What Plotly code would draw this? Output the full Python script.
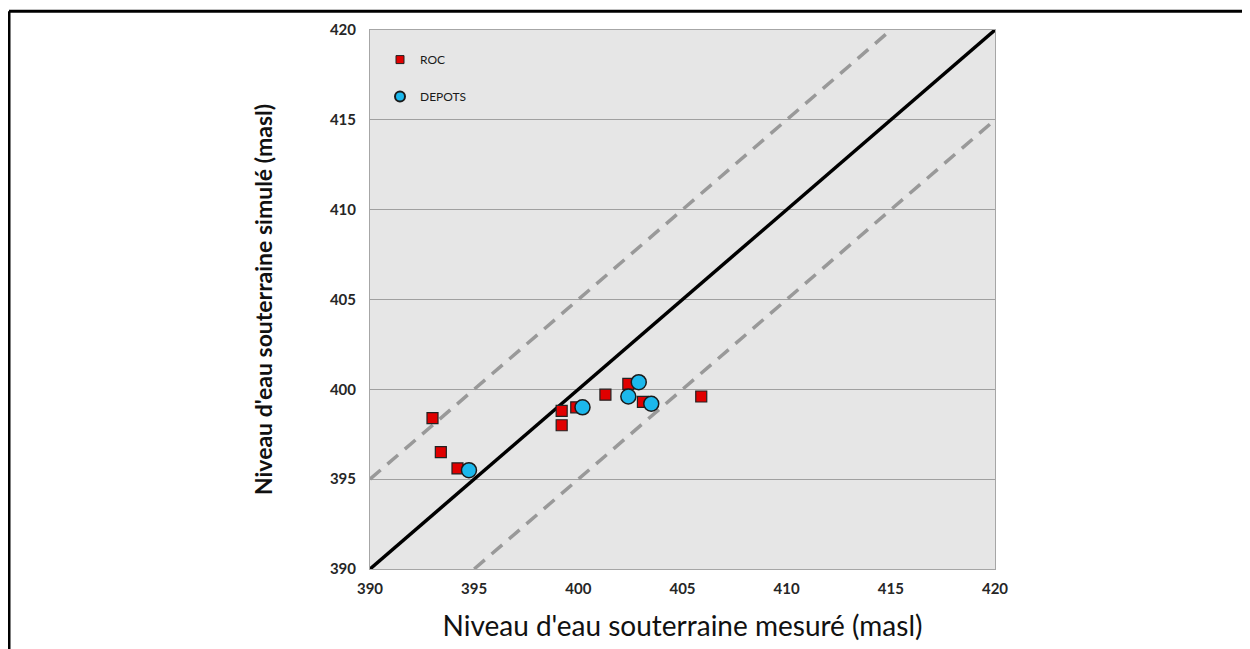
import plotly.graph_objects as go

# measured vs simulated groundwater levels (masl)
roc_mesure = [393.0, 393.4, 394.2, 399.2, 399.2, 399.9, 401.3, 402.4, 403.1, 405.9]
roc_simule = [398.4, 396.5, 395.6, 398.8, 398.0, 399.0, 399.7, 400.3, 399.3, 399.6]

depots_mesure = [394.75, 400.2, 402.9, 402.4, 403.5]
depots_simule = [395.5, 399.0, 400.4, 399.6, 399.2]

# reference lines: 1:1 and +/- 5 m
ligne_x = [390, 420]
ligne_y = [390, 420]
haut_x = [390, 415]
haut_y = [395, 420]
bas_x = [395, 420]
bas_y = [390, 415]

font = "Lato, 'Liberation Sans', sans-serif"

fig = go.Figure()

fig.add_trace(go.Scatter(x=haut_x, y=haut_y, mode="lines", showlegend=False,
                         line=dict(color="#999999", width=3.5, dash="14px,9px"), hoverinfo="skip"))
fig.add_trace(go.Scatter(x=bas_x, y=bas_y, mode="lines", showlegend=False,
                         line=dict(color="#999999", width=3.5, dash="14px,9px"), hoverinfo="skip"))
fig.add_trace(go.Scatter(x=ligne_x, y=ligne_y, mode="lines", showlegend=False,
                         line=dict(color="black", width=3.5), hoverinfo="skip"))

fig.add_trace(go.Scatter(x=roc_mesure, y=roc_simule, mode="markers", name="ROC", showlegend=False,
                         marker=dict(symbol="square", size=11, color="#e00000",
                                     line=dict(color="#222222", width=1.2))))
fig.add_trace(go.Scatter(x=depots_mesure, y=depots_simule, mode="markers", name="DEPOTS", showlegend=False,
                         marker=dict(symbol="circle", size=15, color="#1cb8ec",
                                     line=dict(color="#1a1a1a", width=1.5))))

# legend-only entries with smaller markers
fig.add_trace(go.Scatter(x=[None], y=[None], mode="markers", name="ROC", legendgroup="roc",
                         marker=dict(symbol="square", size=8, color="#e00000",
                                     line=dict(color="#222222", width=1))))
fig.add_trace(go.Scatter(x=[None], y=[None], mode="markers", name="DEPOTS", legendgroup="dep",
                         marker=dict(symbol="circle", size=10, color="#1cb8ec",
                                     line=dict(color="#1a1a1a", width=2))))

fig.update_xaxes(range=[390, 420], dtick=5, showgrid=False, zeroline=False,
                 showline=True, linecolor="#a6a6a6", linewidth=1, mirror=True,
                 ticks="", ticklabelstandoff=6,
                 tickfont=dict(family=font, size=15, color="#262626", weight="bold"),
                 title=dict(text="Niveau d'eau souterraine mesuré (masl)",
                            font=dict(family=font, size=28, color="#111111"),
                            standoff=20))
fig.update_yaxes(range=[390, 420], dtick=5, showgrid=True, gridcolor="#a0a0a0", gridwidth=1,
                 zeroline=False, showline=True, linecolor="#a6a6a6", linewidth=1, mirror=True,
                 ticks="", ticklabelstandoff=10,
                 tickfont=dict(family=font, size=15, color="#262626", weight="bold"),
                 title=dict(text="Niveau d'eau souterraine simulé (masl)",
                            font=dict(family=font, size=23, color="#111111", weight="bold"),
                            standoff=50))

fig.update_layout(
    width=1242, height=641,
    margin=dict(l=362, r=255, t=20, b=79),
    plot_bgcolor="#e6e6e6", paper_bgcolor="white",
    legend=dict(x=0.016, y=0.972, xanchor="left", yanchor="top",
                bgcolor="rgba(0,0,0,0)", tracegroupgap=18,
                font=dict(family=font, size=12, color="#1a1a1a"),
                itemwidth=30),
)

# outer frame (top and left edges)
fig.add_shape(type="line", xref="paper", yref="paper", x0=-0.5776, x1=1.42, y0=1.035, y1=1.035,
              line=dict(color="black", width=3))
fig.add_shape(type="line", xref="paper", yref="paper", x0=-0.5776, x1=-0.5776, y0=1.035, y1=-0.16,
              line=dict(color="black", width=3))

fig.write_html("out.html")
